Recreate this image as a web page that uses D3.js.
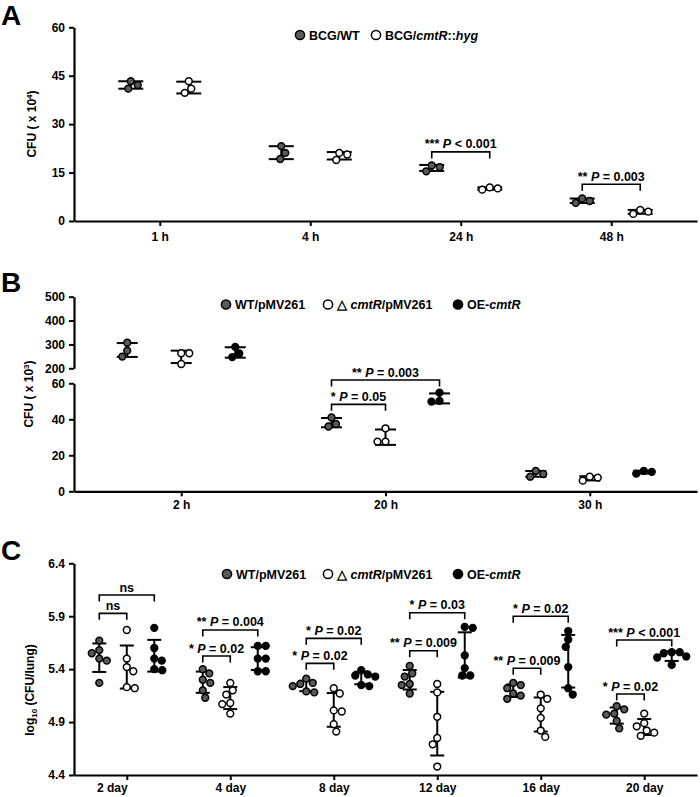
<!DOCTYPE html>
<html><head><meta charset="utf-8">
<script src="https://cdn.jsdelivr.net/npm/d3@7"></script>
<style>body{margin:0;background:#fff}</style>
</head><body><svg id="c" width="700" height="797"></svg>
<script>
// ---------------- DATA ----------------
// Panel A
const timesA = ["1 h", "4 h", "24 h", "48 h"];
const a_WT  = [[43.3, 41.0, 42.1], [23.2, 19.2, 21.1], [17.2, 15.4, 16.7], [7.0, 5.6, 6.2]];
const a_Mut = [[43.3, 39.7, 41.0], [21.1, 18.9, 20.6], [10.4, 9.7, 10.1], [3.4, 2.2, 2.9]];
const ticksA = [0, 15, 30, 45, 60];
const sigA = [
  {g: 2, from: 0, to: 1, level: 21.4, stars: "***", p: "< 0.001"},
  {g: 3, from: 0, to: 1, level: 11.4, stars: "**", p: "= 0.003"}
];
// Panel B
const timesB = ["2 h", "20 h", "30 h"];
const b_WT  = [[307, 274, 249], [41.0, 36.0, 37.4], [11.3, 8.1, 9.6]];
const b_Mut = [[263, 263, 218], [35.0, 27.6, 27.6], [8.1, 5.9, 7.6]];
const b_OE  = [[290, 262, 247], [54.8, 49.8, 50.2], [11.3, 9.8, 10.8]];
const ticksBLow = [0, 20, 40, 60];
const ticksBHigh = [200, 300, 400, 500];
const sigB = [
  {g: 1, from: 0, to: 1, level: 48.3, stars: "*", p: "= 0.05"},
  {g: 1, from: 0, to: 2, level: 61.8, stars: "**", p: "= 0.003"}
];
// Panel C
const timesC = ["2 day", "4 day", "8 day", "12 day", "16 day", "20 day"];
const c_WT = [
  [5.67, 5.58, 5.55, 5.50, 5.48, 5.27],
  [5.40, 5.36, 5.30, 5.27, 5.20, 5.13],
  [5.31, 5.27, 5.26, 5.24, 5.19, 5.18],
  [5.43, 5.36, 5.33, 5.26, 5.25, 5.17],
  [5.27, 5.25, 5.22, 5.17, 5.15, 5.12],
  [5.05, 5.02, 4.98, 4.97, 4.91, 4.84]];
const c_Mut = [
  [5.77, 5.50, 5.42, 5.38, 5.23, 5.22],
  [5.27, 5.20, 5.16, 5.08, 5.07, 4.98],
  [5.22, 5.17, 5.00, 5.01, 4.88, 4.81],
  [5.26, 5.18, 4.95, 4.75, 4.69, 4.48],
  [5.16, 5.12, 5.03, 4.94, 4.82, 4.76],
  [4.98, 4.89, 4.86, 4.82, 4.80, 4.77]];
const c_OE = [
  [5.79, 5.60, 5.50, 5.48, 5.40, 5.39],
  [5.62, 5.62, 5.50, 5.50, 5.38, 5.38],
  [5.39, 5.35, 5.34, 5.33, 5.25, 5.24],
  [5.80, 5.79, 5.53, 5.41, 5.34, 5.34],
  [5.76, 5.68, 5.61, 5.42, 5.22, 5.16],
  [5.56, 5.56, 5.55, 5.52, 5.51, 5.44]];
const ticksC = [4.4, 4.9, 5.4, 5.9, 6.4];
const sigC = [
  {g: 0, from: 0, to: 1, level: 5.927, ns: true},
  {g: 0, from: 0, to: 2, level: 6.10, ns: true},
  {g: 1, from: 0, to: 1, level: 5.524, stars: "*", p: "= 0.02"},
  {g: 1, from: 0, to: 2, level: 5.77, stars: "**", p: "= 0.004"},
  {g: 2, from: 0, to: 1, level: 5.455, stars: "*", p: "= 0.02"},
  {g: 2, from: 0, to: 2, level: 5.691, stars: "*", p: "= 0.02"},
  {g: 3, from: 0, to: 1, level: 5.574, stars: "**", p: "= 0.009"},
  {g: 3, from: 0, to: 2, level: 5.933, stars: "*", p: "= 0.03"},
  {g: 4, from: 0, to: 1, level: 5.408, stars: "**", p: "= 0.009"},
  {g: 4, from: 0, to: 2, level: 5.90, stars: "*", p: "= 0.02"},
  {g: 5, from: 0, to: 1, level: 5.165, stars: "*", p: "= 0.02"},
  {g: 5, from: 0, to: 2, level: 5.675, stars: "***", p: "< 0.001"}
];

// ---------------- DRAWING ----------------
const FONT = "'Liberation Sans', Arial, Helvetica, sans-serif";
const GRAY = "#595959";
const svg = d3.select("#c");
svg.append("rect").attr("width", 700).attr("height", 797).attr("fill", "#fff");

function styleAxis(g, fs) {
  g.select(".domain").attr("stroke", "#000").attr("stroke-width", 2.2);
  g.selectAll(".tick line").attr("stroke", "#000").attr("stroke-width", 2);
  g.selectAll(".tick text").attr("font-family", FONT).attr("font-weight", "bold")
    .attr("font-size", fs).attr("fill", "#000");
}

function swarm(vals, yf, cx, minDist) {
  const pts = vals.map((v, i) => ({v, y: yf(v), i}));
  const order = pts.slice().sort((a, b) => a.y - b.y);
  const placed = [];
  order.forEach((p, k) => {
    let best = null;
    for (let s = 0; s < 80 && best === null; s += 0.5) {
      for (const sign of (k % 2 ? [1, -1] : [-1, 1])) {
        const dx = s * sign;
        if (placed.every(q => Math.hypot(q.dx - dx, q.y - p.y) >= minDist)) { best = dx; break; }
      }
    }
    p.dx = best; placed.push(p);
  });
  pts.forEach(p => p.x = cx + p.dx);
  return pts;
}

function drawGroup(g, vals, cx, yf, fill, capW, r) {
  const m = d3.mean(vals), sd = d3.deviation(vals);
  const y1 = yf(m + sd), y2 = yf(m - sd);
  const eb = g.append("g").attr("stroke", "#000").attr("stroke-width", 2);
  eb.append("line").attr("x1", cx).attr("x2", cx).attr("y1", y1).attr("y2", y2);
  eb.append("line").attr("x1", cx - capW / 2).attr("x2", cx + capW / 2).attr("y1", y1).attr("y2", y1);
  eb.append("line").attr("x1", cx - capW / 2).attr("x2", cx + capW / 2).attr("y1", y2).attr("y2", y2);
  const pts = swarm(vals, yf, cx, 2 * r + 0.9);
  g.append("g").selectAll("circle").data(pts).join("circle")
    .attr("cx", d => d.x).attr("cy", d => d.y).attr("r", r)
    .attr("fill", fill).attr("stroke", "#000").attr("stroke-width", 1.5);
}

function sigText(g, x, y, s, fs) {
  const t = g.append("text").attr("x", x).attr("y", y).attr("text-anchor", "middle")
    .attr("font-family", FONT).attr("font-weight", "bold").attr("font-size", fs).attr("fill", "#000");
  if (s.ns) { t.text("ns"); return; }
  t.append("tspan").text(s.stars + " ");
  t.append("tspan").attr("font-style", "italic").text("P");
  t.append("tspan").text(" " + s.p);
}

function drawSig(g, sigs, xPos, yf, leg, fs) {
  sigs.forEach(s => {
    const x1 = xPos(s.g, s.from), x2 = xPos(s.g, s.to), y = yf(s.level);
    g.append("path").attr("d", `M${x1},${y + leg}V${y}H${x2}V${y + leg}`)
      .attr("fill", "none").attr("stroke", "#000").attr("stroke-width", 1.6);
    sigText(g, (x1 + x2) / 2, y - 3.5, s, fs);
  });
}

function legendItem(g, x, y, fill, parts) {
  g.append("circle").attr("cx", x).attr("cy", y).attr("r", 4.6)
    .attr("fill", fill).attr("stroke", "#000").attr("stroke-width", 1.5);
  const t = g.append("text").attr("x", x + 9).attr("y", y + 4.5)
    .attr("font-family", FONT).attr("font-weight", "bold").attr("font-size", 12.5).attr("fill", "#000");
  parts.forEach(([txt, it]) => {
    const sp = t.append("tspan").text(txt);
    if (it) sp.attr("font-style", "italic");
  });
}

function panelLetter(txt, y) {
  svg.append("text").attr("x", 1).attr("y", y).text(txt)
    .attr("font-family", FONT).attr("font-weight", "bold").attr("font-size", 28).attr("fill", "#000");
}

function yTitle(x, y, parts) {
  const t = svg.append("text").attr("transform", `translate(${x},${y}) rotate(-90)`)
    .attr("text-anchor", "middle").attr("font-family", FONT).attr("font-weight", "bold")
    .attr("font-size", 12).attr("fill", "#000");
  parts.forEach(([txt, kind]) => {
    const sp = t.append("tspan").text(txt);
    if (kind === "sup") sp.attr("font-size", 8).attr("dy", -4);
    if (kind === "sub") sp.attr("font-size", 8).attr("dy", 3);
    if (kind === "back") sp.attr("dy", -3);
    if (kind === "down") sp.attr("dy", 4);
  });
}

const AX_X = 74, AX_R = 697, R = 3.4;

// ===== Panel A =====
{
  const g = svg.append("g");
  const y = d3.scaleLinear().domain([0, 60]).range([221, 27.3]);
  const x = d3.scalePoint().domain(timesA).range([AX_X, AX_R]).padding(0.57);
  const off = 29;
  g.append("g").attr("transform", `translate(0,${y(0)})`)
    .call(d3.axisBottom(x).tickSize(5).tickSizeOuter(0).tickPadding(6))
    .call(a => styleAxis(a, 12));
  g.append("g").attr("transform", `translate(${AX_X},0)`)
    .call(d3.axisLeft(y).tickValues(ticksA).tickSize(5).tickSizeOuter(0).tickPadding(4))
    .call(a => styleAxis(a, 12));
  const series = [a_WT, a_Mut], fills = [GRAY, "#fff"], offs = [-off, off];
  timesA.forEach((t, i) => series.forEach((s, k) =>
    drawGroup(g, s[i], x(t) + offs[k], y, fills[k], 25, R)));
  drawSig(g, sigA, (gi, k) => x(timesA[gi]) + offs[k], y, 6.5, 12.5);
  legendItem(g, 300, 35, GRAY, [["BCG/WT", false]]);
  legendItem(g, 376, 35, "#fff", [["BCG/", false], ["cmtR", true], ["::", false], ["hyg", true]]);
  panelLetter("A", 25);
  yTitle(36, 124, [["CFU ( x 10", ""], ["4", "sup"], [")", "down"]]);
}

// ===== Panel B =====
{
  const g = svg.append("g");
  const yLow = d3.scaleLinear().domain([0, 60]).range([491.3, 383.3]);
  const yHigh = d3.scaleLinear().domain([200, 500]).range([368.3, 296.7]);
  const yf = v => v >= 200 ? yHigh(v) : yLow(v);
  const x = d3.scalePoint().domain(timesB).range([AX_X, AX_R]).padding(0.525);
  const off = 54;
  g.append("g").attr("transform", `translate(0,${yLow(0)})`)
    .call(d3.axisBottom(x).tickSize(5).tickSizeOuter(0).tickPadding(4))
    .call(a => styleAxis(a, 12));
  g.append("g").attr("transform", `translate(${AX_X},0)`)
    .call(d3.axisLeft(yLow).tickValues(ticksBLow).tickSize(5).tickSizeOuter(0).tickPadding(4))
    .call(a => styleAxis(a, 12));
  g.append("g").attr("transform", `translate(${AX_X},0)`)
    .call(d3.axisLeft(yHigh).tickValues(ticksBHigh).tickSize(5).tickSizeOuter(0).tickPadding(4))
    .call(a => styleAxis(a, 12));
  const series = [b_WT, b_Mut, b_OE], fills = [GRAY, "#fff", "#000"], offs = [-off, 0, off];
  timesB.forEach((t, i) => series.forEach((s, k) =>
    drawGroup(g, s[i], x(t) + offs[k], yf, fills[k], 21, R)));
  drawSig(g, sigB, (gi, k) => x(timesB[gi]) + offs[k], yLow, 6.5, 12.5);
  legendItem(g, 226, 304.5, GRAY, [["WT/pMV261", false]]);
  legendItem(g, 328, 304.5, "#fff", [["△ ", false], ["cmtR", true], ["/pMV261", false]]);
  legendItem(g, 458, 304.5, "#000", [["OE-", false], ["cmtR", true]]);
  panelLetter("B", 292);
  yTitle(33, 394, [["CFU ( x 10", ""], ["3", "sup"], [")", "down"]]);
}

// ===== Panel C =====
{
  const g = svg.append("g");
  const y = d3.scaleLinear().domain([4.4, 6.4]).range([775, 563.3]);
  const x = d3.scalePoint().domain(timesC).range([AX_X, AX_R]).padding(0.51);
  const off = 27.5;
  const ax = g.append("g").attr("transform", `translate(0,${y(4.4)})`)
    .call(d3.axisBottom(x).tickSize(5).tickSizeOuter(0).tickPadding(3))
    .call(a => styleAxis(a, 12));
  // first category label sits slightly left of its tick in the reference
  ax.selectAll(".tick text").filter(d => d === timesC[0]).attr("dx", -15);
  g.append("g").attr("transform", `translate(${AX_X},0)`)
    .call(d3.axisLeft(y).tickValues(ticksC).tickFormat(d3.format(".1f")).tickSize(5).tickSizeOuter(0).tickPadding(4))
    .call(a => styleAxis(a, 12));
  const series = [c_WT, c_Mut, c_OE], fills = [GRAY, "#fff", "#000"], offs = [-off, 0, off];
  timesC.forEach((t, i) => series.forEach((s, k) =>
    drawGroup(g, s[i], x(t) + offs[k], y, fills[k], 14, R)));
  drawSig(g, sigC, (gi, k) => x(timesC[gi]) + offs[k], y, 6.5, 12.5);
  legendItem(g, 227, 574, GRAY, [["WT/pMV261", false]]);
  legendItem(g, 328, 574, "#fff", [["△ ", false], ["cmtR", true], ["/pMV261", false]]);
  legendItem(g, 458, 574, "#000", [["OE-", false], ["cmtR", true]]);
  panelLetter("C", 560);
  yTitle(34, 690, [["log", ""], ["10", "sub"], [" (CFU/lung)", "back"]]);
}
</script>
</body></html>
